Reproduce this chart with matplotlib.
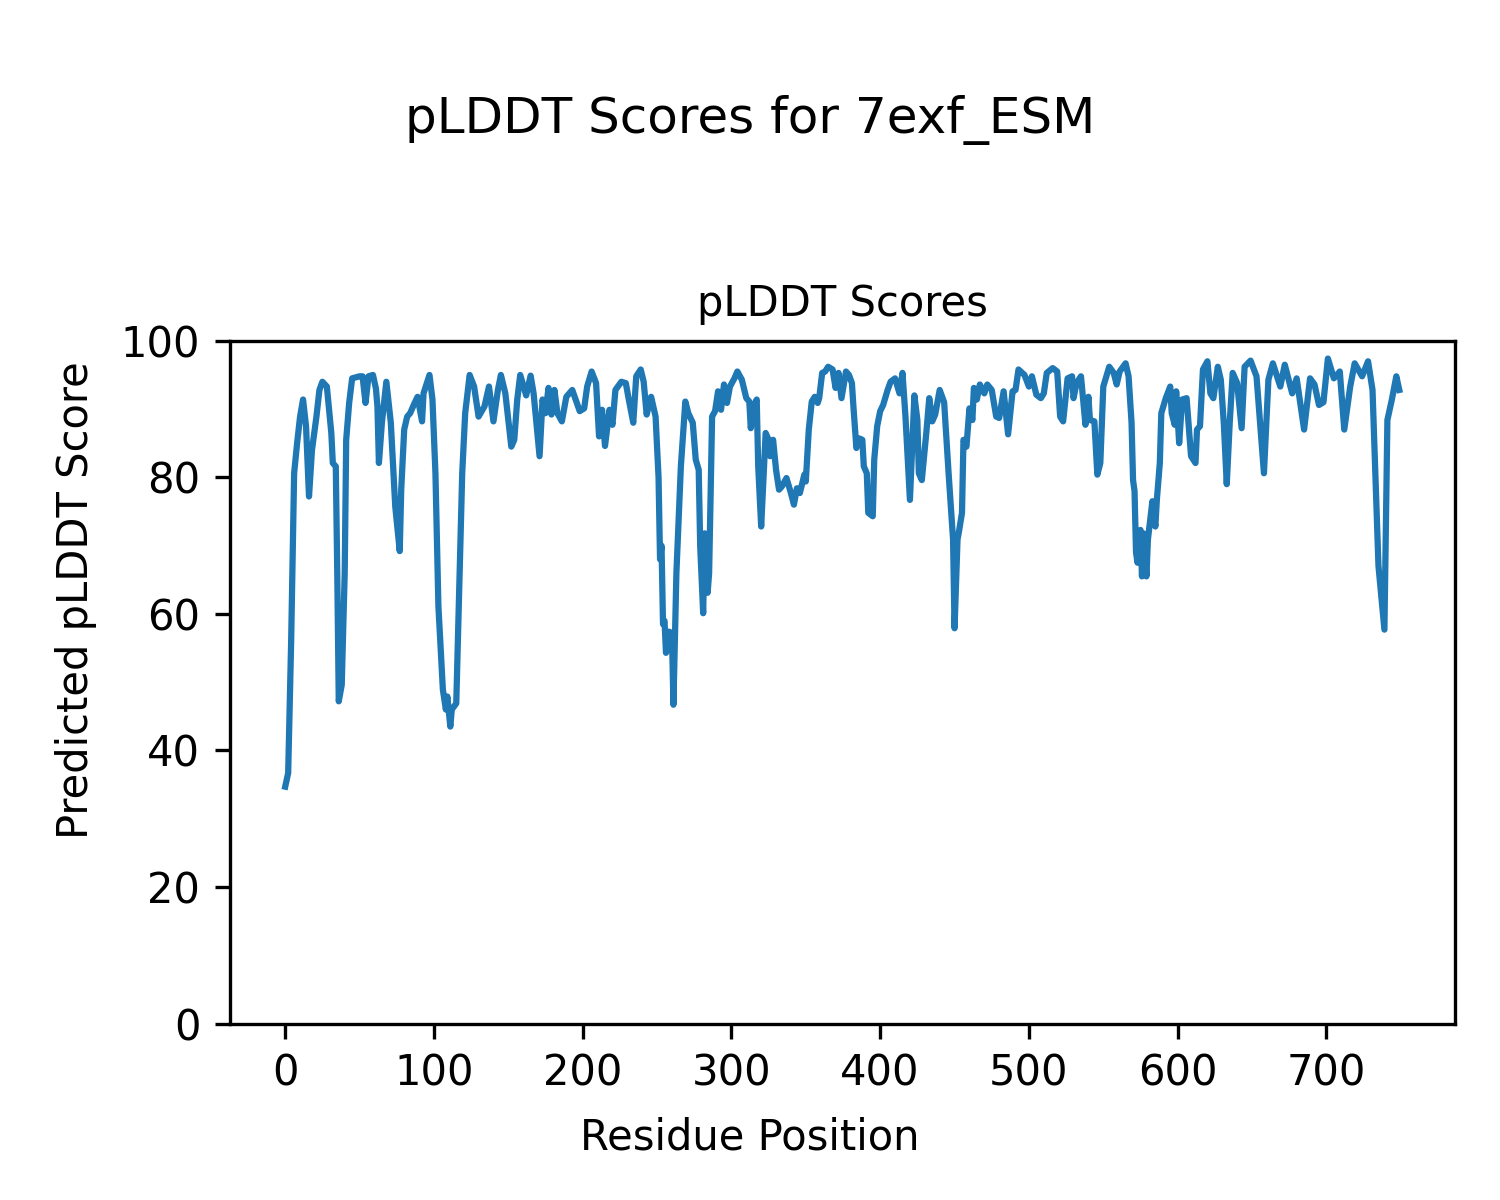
import matplotlib
matplotlib.use('Agg')
import matplotlib.pyplot as plt

# residue positions and pLDDT values
residue = [0, 2, 4, 6, 8, 10, 12, 14, 16, 18, 21, 23, 25, 28, 31, 32, 34, 35, 36, 38,
           40, 41, 43, 45, 50, 52, 54, 56, 59, 61, 62, 63, 65, 68, 71, 73, 74, 77, 78, 80,
           82, 84, 87, 89, 92, 93, 97, 99, 101, 103, 106, 108, 109, 111, 112, 115, 117, 119, 121, 124,
           127, 130, 134, 137, 140, 143, 145, 148, 152, 154, 156, 158, 162, 165, 167, 171, 173, 175, 177, 179,
           181, 183, 186, 189, 193, 198, 201, 203, 206, 209, 211, 213, 215, 218, 220, 222, 226, 229, 231, 234,
           236, 239, 241, 243, 246, 249, 251, 252, 253, 254, 255, 256, 258, 260, 261, 263, 266, 269, 271, 274,
           276, 278, 279, 281, 282, 284, 285, 287, 289, 291, 293, 295, 297, 299, 302, 304, 307, 310, 312, 313,
           315, 317, 318, 320, 323, 325, 326, 328, 330, 332, 334, 337, 340, 342, 344, 346, 349, 350, 352, 354,
           356, 358, 359, 361, 363, 365, 368, 370, 372, 374, 377, 379, 381, 382, 384, 386, 388, 389, 391, 392,
           395, 396, 398, 400, 402, 405, 407, 410, 413, 415, 417, 420, 423, 425, 426, 428, 431, 433, 435, 437,
           440, 443, 446, 449, 450, 452, 453, 455, 456, 458, 460, 462, 463, 465, 467, 470, 472, 475, 478, 480,
           483, 486, 489, 491, 493, 497, 500, 502, 505, 508, 510, 512, 516, 519, 521, 523, 526, 529, 530, 532,
           535, 538, 540, 541, 544, 546, 548, 550, 554, 557, 559, 561, 565, 567, 569, 570, 571, 572, 573, 575,
           576, 577, 579, 580, 583, 585, 586, 588, 589, 592, 595, 596, 598, 599, 601, 603, 606, 609, 612, 613,
           615, 617, 620, 622, 624, 627, 629, 631, 633, 635, 637, 640, 643, 645, 649, 653, 658, 661, 664, 669,
           672, 677, 680, 685, 689, 692, 695, 698, 701, 705, 709, 712, 716, 719, 724, 728, 731, 735, 739, 741,
           744, 747, 749]
plddt = [34.7, 36.7, 56.0, 80.6, 85.0, 88.9, 91.4, 87.5, 77.2, 84.0, 88.9, 92.8, 94.0, 93.3, 86.5, 82.1, 81.6, 66.0, 47.2, 49.6,
         66.0, 85.5, 90.9, 94.5, 94.8, 94.8, 90.9, 94.8, 95.0, 93.0, 90.4, 82.1, 88.0, 94.0, 88.0, 79.6, 75.7, 69.2, 78.2, 87.0,
         88.9, 89.4, 90.9, 91.8, 88.2, 92.3, 95.0, 91.4, 80.6, 61.1, 48.9, 46.0, 47.9, 43.5, 46.0, 46.9, 63.5, 80.6, 89.4, 95.0,
         93.3, 88.9, 90.4, 93.3, 88.2, 92.8, 95.0, 92.3, 84.5, 85.5, 91.4, 95.0, 92.0, 94.9, 92.3, 83.1, 91.4, 89.4, 93.1, 89.2,
         92.8, 89.4, 88.2, 91.8, 92.8, 89.7, 90.1, 93.3, 95.5, 93.8, 86.0, 89.9, 84.6, 89.9, 87.7, 92.8, 94.0, 93.8, 91.4, 88.0,
         94.8, 95.8, 94.0, 89.2, 91.8, 88.9, 80.0, 68.0, 70.0, 58.5, 59.0, 54.3, 57.4, 57.2, 46.7, 66.0, 81.6, 91.1, 89.4, 88.0,
         82.6, 81.1, 69.9, 60.1, 71.8, 63.1, 66.0, 88.9, 89.7, 92.6, 89.9, 93.6, 90.9, 93.3, 94.5, 95.5, 94.3, 91.6, 91.1, 87.2,
         90.5, 91.4, 81.6, 72.8, 86.5, 85.5, 83.1, 85.5, 81.1, 78.2, 78.7, 79.9, 77.7, 76.0, 78.4, 77.7, 80.4, 79.4, 87.0, 91.1,
         91.8, 90.9, 91.6, 95.3, 95.5, 96.2, 95.8, 93.1, 95.3, 91.6, 95.5, 95.0, 93.8, 90.4, 84.3, 85.7, 85.5, 81.6, 80.6, 74.8,
         74.3, 82.6, 87.5, 89.7, 90.6, 92.8, 94.0, 94.5, 92.3, 95.3, 88.9, 76.7, 92.0, 88.4, 80.6, 79.6, 86.5, 91.6, 88.2, 89.2,
         92.8, 91.0, 80.6, 70.9, 57.9, 70.9, 72.1, 74.8, 85.5, 84.5, 90.1, 88.4, 93.1, 91.4, 93.6, 92.3, 93.6, 92.8, 88.9, 88.7,
         92.6, 86.3, 92.6, 92.8, 95.8, 95.0, 93.3, 94.8, 92.1, 91.6, 92.3, 95.3, 96.0, 95.5, 88.9, 88.2, 94.5, 94.8, 91.6, 93.8,
         94.8, 87.7, 91.8, 88.4, 88.2, 80.4, 82.1, 93.3, 96.2, 95.3, 93.6, 95.5, 96.7, 94.8, 88.0, 79.6, 78.0, 69.0, 67.5, 72.3,
         65.5, 71.8, 65.5, 70.9, 76.5, 72.8, 76.7, 82.1, 89.4, 91.6, 93.3, 89.4, 87.7, 92.6, 85.0, 91.4, 91.6, 83.1, 82.1, 87.0,
         87.5, 95.8, 97.0, 92.3, 91.6, 96.2, 94.3, 88.0, 79.0, 88.0, 95.3, 93.8, 87.2, 96.2, 97.1, 94.8, 80.6, 94.3, 96.7, 93.3,
         96.5, 92.3, 94.5, 87.0, 94.5, 93.6, 90.6, 91.0, 97.4, 94.5, 95.5, 87.0, 93.3, 96.7, 94.8, 97.0, 92.8, 67.0, 57.7, 88.4,
         91.4, 94.8, 92.8]

fig = plt.figure(figsize=(5, 4), dpi=300)
fig.suptitle('pLDDT Scores for 7exf_ESM', y=0.9, va='center')
ax = fig.add_axes([0.153, 0.147, 0.817, 0.569])
ax.plot(residue, plddt)
ax.set_ylim(0, 100)
ax.set_title('pLDDT Scores', fontsize=10)
fig.supxlabel('Residue Position', fontsize=10, y=0.052, va='center')
fig.supylabel('Predicted pLDDT Score', fontsize=10, x=0.051, ha='center')
fig.savefig('out.png')
